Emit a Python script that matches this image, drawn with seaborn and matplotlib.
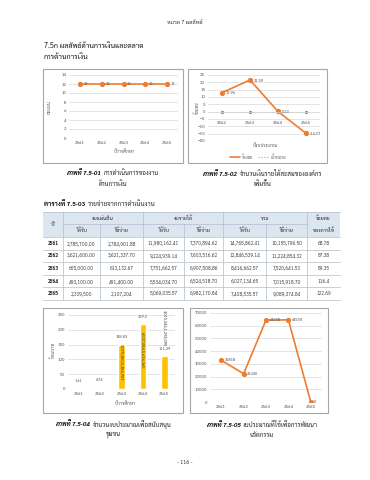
import matplotlib
matplotlib.use("Agg")
import matplotlib.pyplot as plt
from matplotlib.patches import Rectangle
from matplotlib.lines import Line2D
from matplotlib.offsetbox import TextArea, HPacker, AnnotationBbox
import seaborn as sns

# ---- data ----
years_a = ["2561", "2562", "2563", "2564", "2565"]
score_a = [12, 12, 12, 12, 12]

years_b = ["2562", "2563", "2564", "2565"]
pct_b = [12.96, 21.59, 0.13, -14.77]
target_b = [0, 0, 0, 0]

tbl_years = ["2561", "2562", "2563", "2564", "2565"]
gov_recv = ["2,785,700.00", "3,621,600.00", "665,000.00", "493,100.00", "2,339,500"]
gov_spent = ["2,784,901.88", "3,621,337.70", "613,132.67", "491,400.00", "2,107,204"]
inc_recv = ["11,980,162.41", "9,224,939.14", "7,751,662.57", "5,534,034.70", "5,069,035.57"]
inc_spent = ["7,370,894.62", "7,603,516.62", "6,907,508.86", "6,524,518.70", "6,982,170.84"]
tot_recv = ["14,765,862.41", "12,846,539.14", "8,416,662.57", "6,027,134.65", "7,408,535.57"]
tot_spent = ["10,155,796.50", "11,224,854.32", "7,520,641.53", "7,015,918.70", "9,089,374.84"]
use_pct = ["68.78", "87.38", "89.35", "116.4", "122.69"]

years_c = ["2561", "2562", "2563", "2564", "2565"]
budget_c = [1.61, 4.74, 148.83, 219.2, 111.29]
budget_c_note = ["", "", "5,079,380,5,386,907", "6,537,086,5,626,365", "3,015,546,1,294,095"]

years_d = ["2561", "2562", "2563", "2564", "2565"]
innov_d = [32818, 22240, 64378, 64578, 0]

ORANGE = "#ED7D31"
GOLD = "#FFC000"
GRID = "#D9D9D9"
TICK = "#595959"
FRAME = "#A6A6A6"
HEAD_BG = "#DCE6F1"

sns.set_theme(style="white")
plt.rcParams["font.family"] = ["Sarabun", "Noto Sans Thai", "Chakra Petch", "DejaVu Sans"]

W, H = 370, 480
fig = plt.figure(figsize=(W / 100, H / 100), dpi=100)


def rect(x0, y0, x1, y1):
    return [x0 / W, 1 - y1 / H, (x1 - x0) / W, (y1 - y0) / H]


# page layer in pixel coordinates
page = fig.add_axes([0, 0, 1, 1])
page.set_xlim(0, W)
page.set_ylim(H, 0)
page.axis("off")

page.text(185, 22, "หมวด 7 ผลลัพธ์", ha="center", va="center", fontsize=4, color="#333333")
page.text(44, 46, "7.5ก ผลลัพธ์ด้านการเงินและตลาด", ha="left", va="center", fontsize=5.2, color="#111111")
page.text(44, 57, "การด้านการเงิน", ha="left", va="center", fontsize=5.2, color="#111111")

for x0, y0, x1, y1 in [(43, 69, 183, 163), (188, 69, 327, 163), (43, 308, 183, 413), (190, 308, 328, 413)]:
    page.add_patch(Rectangle((x0, y0), x1 - x0, y1 - y0, fill=False, ec=FRAME, lw=0.8))


def two_part(x, y, first, rest, size, align=0.5, italic=True):
    parts = HPacker(children=[
        TextArea(first, textprops=dict(fontsize=size, fontweight="bold",
                                       fontstyle="italic" if italic else "normal", color="#111111")),
        TextArea(rest, textprops=dict(fontsize=size, color="#222222")),
    ], align="baseline", pad=0, sep=2)
    page.add_artist(AnnotationBbox(parts, (x, y), xycoords="data", frameon=False,
                                   box_alignment=(align, 0.5), pad=0))


def caption(xc, y, bold, rest, line2):
    two_part(xc, y, bold, rest, 4.4)
    page.text(xc, y + 11, line2, ha="center", va="center", fontsize=4.4, color="#222222")


caption(113, 173, "ภาพที่ 7.5-01", "การดำเนินการของงาน", "ด้านการเงิน")
caption(262, 173, "ภาพที่ 7.5-02", "จำนวนเงินรายได้สะสมขององค์กร", "เพิ่มขึ้น")
caption(113, 424, "ภาพที่ 7.5-04", "จำนวนงบประมาณเพื่อสนับสนุน", "ชุมชน")
caption(262, 424, "ภาพที่ 7.5-05", "งบประมาณที่ใช้เพื่อการพัฒนา", "นวัตกรรม")
page.text(185, 463, "- 116 -", ha="center", va="center", fontsize=4, color="#333333")


def style_axes(ax):
    for s in ax.spines.values():
        s.set_visible(False)
    ax.grid(axis="y", color=GRID, lw=0.5)
    ax.grid(axis="x", visible=False)
    ax.tick_params(axis="both", length=0, labelsize=3.3, colors=TICK, pad=2)
    ax.set_xlabel("")
    ax.set_ylabel("")


# ---- chart 1 ----
ax1 = fig.add_axes(rect(69, 75, 178, 138))
sns.lineplot(x=years_a, y=score_a, ax=ax1, color=ORANGE, marker="o", markersize=3,
             markeredgecolor=ORANGE, linewidth=1.2)
ax1.set_ylim(0, 14)
ax1.set_yticks(range(0, 15, 2))
ax1.set_xlim(-0.5, len(years_a) - 0.5)
style_axes(ax1)
for i, v in enumerate(score_a):
    ax1.annotate(str(v), (i, v), xytext=(2.5, 0), textcoords="offset points",
                 fontsize=3, color=TICK, va="center", ha="left")
page.text(50, 107, "คะแนน", rotation=90, ha="center", va="center", fontsize=3.3, color=TICK)
page.text(124, 152, "ปีการศึกษา", ha="center", va="center", fontsize=3.3, color=TICK)

# ---- chart 2 ----
ax2 = fig.add_axes(rect(208, 75, 320, 141))
sns.lineplot(x=years_b, y=target_b, ax=ax2, color="#A5A5A5", linestyle=":", linewidth=0.8,
             marker="o", markersize=1.5, markeredgecolor="#7F7F7F")
sns.lineplot(x=years_b, y=pct_b, ax=ax2, color=ORANGE, marker="o", markersize=3,
             markeredgecolor=ORANGE, linewidth=1.2)
ax2.set_ylim(-20, 25)
ax2.set_yticks(range(-20, 26, 5))
ax2.set_xlim(-0.5, len(years_b) - 0.5)
style_axes(ax2)
ax2.spines["bottom"].set_visible(True)
ax2.spines["bottom"].set_position(("data", 0))
ax2.spines["bottom"].set_color(GRID)
ax2.spines["bottom"].set_linewidth(0.5)
ax2.tick_params(axis="x", pad=7)
for i, v in enumerate(pct_b):
    ax2.annotate(f"{v:.2f}", (i, v), xytext=(2.5, -0.5), textcoords="offset points",
                 fontsize=3, color=TICK, va="center", ha="left")
page.text(197, 108, "ร้อยละ", rotation=90, ha="center", va="center", fontsize=3.3, color=TICK)
page.text(265, 146, "ปีงบประมาณ", ha="center", va="center", fontsize=3.3, color=TICK)
handles = [Line2D([], [], color=ORANGE, lw=1.2), Line2D([], [], color="#A5A5A5", lw=0.8, ls=":")]
fig.legend(handles, ["ร้อยละ", "เป้าหมาย"], loc="center", bbox_to_anchor=(258 / W, 1 - 157 / H),
           ncol=2, frameon=False, fontsize=3, handlelength=2.5, columnspacing=1.2,
           handletextpad=0.5, labelcolor=TICK)

# ---- table 7.5-03 ----
two_part(44, 204, "ตารางที่ 7.5-03", "รายจ่ายจากการดำเนินงาน", 4.6, align=0.0, italic=False)

cols = [43, 63, 100, 143, 184, 223, 266, 307, 340]
t_top, h_mid, h_bot, t_bot = 212, 224, 237, 300
row_h = (t_bot - h_bot) / len(tbl_years)
page.add_patch(Rectangle((cols[0], t_top), cols[-1] - cols[0], h_bot - t_top, color=HEAD_BG, lw=0))
LINE = "#B4BCC8"
page.plot([cols[0], cols[-1]], [t_top, t_top], color=LINE, lw=0.5)
page.plot([cols[1], cols[7]], [h_mid, h_mid], color=LINE, lw=0.5)
for k in range(len(tbl_years) + 1):
    yy = h_bot + k * row_h
    page.plot([cols[0], cols[-1]], [yy, yy], color=LINE, lw=0.5)
for j, xx in enumerate(cols[1:-1], start=1):
    y_start = h_mid if j in (2, 4, 6) else t_top
    page.plot([xx, xx], [y_start, t_bot], color=LINE, lw=0.5)

fs_t = 3.6
page.text((cols[0] + cols[1]) / 2, (t_top + h_bot) / 2, "ปี", ha="center", va="center", fontsize=fs_t + 0.4)
for g, name in enumerate(["งบแผ่นดิน", "งบรายได้", "รวม"]):
    a, b = cols[1 + 2 * g], cols[3 + 2 * g]
    page.text((a + b) / 2, (t_top + h_mid) / 2, name, ha="center", va="center", fontsize=fs_t + 0.2)
    page.text((a + cols[2 + 2 * g]) / 2, (h_mid + h_bot) / 2, "ได้รับ", ha="center", va="center", fontsize=fs_t + 0.2)
    page.text((cols[2 + 2 * g] + b) / 2, (h_mid + h_bot) / 2, "ใช้จ่าย", ha="center", va="center", fontsize=fs_t + 0.2)
page.text((cols[7] + cols[8]) / 2, (t_top + h_mid) / 2, "ร้อยละ", ha="center", va="center", fontsize=fs_t + 0.2)
page.text((cols[7] + cols[8]) / 2, (h_mid + h_bot) / 2, "ของการใช้", ha="center", va="center", fontsize=fs_t + 0.2)

table_cols = [tbl_years, gov_recv, gov_spent, inc_recv, inc_spent, tot_recv, tot_spent, use_pct]
for r in range(len(tbl_years)):
    yc = h_bot + (r + 0.5) * row_h
    for c, col in enumerate(table_cols):
        page.text((cols[c] + cols[c + 1]) / 2, yc, col[r], ha="center", va="center",
                  fontsize=fs_t, color="#222222" if c == 0 else "#444444",
                  fontweight="bold" if c == 0 else "normal")

# ---- chart 4 ----
ax4 = fig.add_axes(rect(68, 315, 175, 389))
sns.barplot(x=years_c, y=budget_c, ax=ax4, color=GOLD, saturation=1, width=0.3)
ax4.set_ylim(0, 250)
ax4.set_yticks(range(0, 251, 50))
style_axes(ax4)
for i, v in enumerate(budget_c):
    ax4.annotate(f"{v:g}", (i, v), xytext=(0, 4), textcoords="offset points",
                 fontsize=3, color=TICK, va="bottom", ha="center")
    note = budget_c_note[i]
    if note:
        yc = v * 0.6 if v > 120 else v + 95
        ax4.text(i, yc, note, rotation=-90, ha="center", va="center", fontsize=3, color="#404040")
page.text(53, 350, "ล้านบาท", rotation=90, ha="center", va="center", fontsize=3.3, color=TICK)
page.text(125, 404, "ปีการศึกษา", ha="center", va="center", fontsize=3.3, color=TICK)

# ---- chart 5 ----
ax5 = fig.add_axes(rect(210, 313, 322, 402))
sns.lineplot(x=years_d, y=innov_d, ax=ax5, color=ORANGE, marker="o", markersize=3,
             markeredgecolor=ORANGE, linewidth=1.2)
ax5.set_ylim(0, 70000)
ax5.set_yticks(range(0, 70001, 10000))
ax5.set_xlim(-0.5, len(years_d) - 0.5)
style_axes(ax5)
for i, v in enumerate(innov_d):
    ax5.annotate(str(v), (i, v), xytext=(2.5, 0), textcoords="offset points",
                 fontsize=3, color=TICK, va="center", ha="left")

fig.savefig("out.png", dpi=100)
